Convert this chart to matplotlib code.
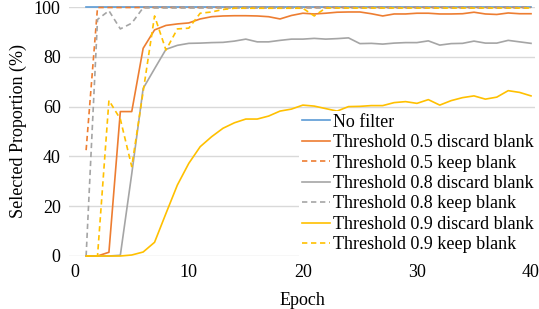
import numpy as np
import matplotlib
matplotlib.use("Agg")
import matplotlib.pyplot as plt

plt.rcParams.update({
    "font.family": "serif",
    "font.serif": ["Liberation Serif", "Times New Roman", "DejaVu Serif"],
    "font.size": 13,
})

# -----------------------------
# Data
# -----------------------------
epochs = np.arange(1, 41)

no_filter = [100, 100, 100, 100, 100, 100, 100, 100, 100, 100,
             100, 100, 100, 100, 100, 100, 100, 100, 100, 100,
             100, 100, 100, 100, 100, 100, 100, 100, 100, 100,
             100, 100, 100, 100, 100, 100, 100, 100, 100, 100]

t05_discard = [0, 0, 1.5, 58, 58, 83.4, 90.8, 92.6, 93.2, 93.6,
               95.2, 96.1, 96.4, 96.5, 96.5, 96.4, 96.1, 95.2, 96.6, 97.5,
               97.2, 97.5, 97.9, 98.0, 98.0, 97.3, 96.4, 97.2, 97.2, 97.5,
               97.5, 97.2, 97.2, 97.3, 97.9, 97.2, 97.0, 97.6, 97.3, 97.3]

t05_keep = [42.5, 99.8, 99.8, 99.8, 99.8, 99.8, 99.8, 99.8, 99.8, 99.8,
            99.8, 99.8, 99.8, 99.8, 99.8, 99.8, 99.8, 99.8, 99.8, 99.8,
            99.8, 99.8, 99.8, 99.8, 99.8, 99.8, 99.8, 99.8, 99.8, 99.8,
            99.8, 99.8, 99.8, 99.8, 99.8, 99.8, 99.8, 99.8, 99.8, 99.8]

t08_discard = [0, 0, 0, 0.3, 33, 67.3, 75.2, 83.0, 84.6, 85.4,
               85.5, 85.7, 85.8, 86.3, 87.1, 86.0, 86.0, 86.6, 87.1, 87.1,
               87.4, 87.1, 87.3, 87.6, 85.3, 85.4, 85.1, 85.5, 85.7, 85.7,
               86.4, 84.7, 85.3, 85.4, 86.3, 85.5, 85.5, 86.6, 86.0, 85.4]

t08_keep = [0, 95.0, 98.5, 91.2, 93.5, 99.7, 99.6, 99.6, 99.6, 99.6,
            99.6, 99.6, 99.6, 99.6, 99.6, 99.6, 99.6, 99.6, 99.6, 99.6,
            99.6, 99.6, 99.6, 99.6, 99.6, 99.6, 99.6, 99.6, 99.6, 99.6,
            99.6, 99.6, 99.6, 99.6, 99.6, 99.6, 99.6, 99.6, 99.6, 99.6]

t09_discard = [0, 0, 0, 0, 0.4, 1.6, 5.5, 17.1, 28.5, 37.2,
               43.9, 47.9, 51.3, 53.5, 55.0, 55.0, 56.2, 58.2, 59.0, 60.6,
               60.2, 59.2, 58.2, 60.0, 60.1, 60.4, 60.4, 61.6, 62.0, 61.3,
               62.8, 60.6, 62.4, 63.6, 64.3, 63.0, 63.8, 66.4, 65.7, 64.3]

t09_keep = [0, 0, 62.5, 55.0, 35.9, 66.0, 96.4, 82.7, 91.2, 91.5,
            97.5, 98.0, 99.0, 99.5, 99.5, 99.5, 99.5, 99.5, 99.5, 99.5,
            96.4, 99.6, 99.6, 99.6, 99.6, 99.6, 99.6, 99.6, 99.6, 99.6,
            99.6, 99.6, 99.6, 99.6, 99.6, 99.6, 99.6, 99.6, 99.6, 99.6]

labels = ["No filter",
          "Threshold 0.5 discard blank",
          "Threshold 0.5 keep blank",
          "Threshold 0.8 discard blank",
          "Threshold 0.8 keep blank",
          "Threshold 0.9 discard blank",
          "Threshold 0.9 keep blank"]

# -----------------------------
# Style
# -----------------------------
BLUE = "#5B9BD5"
ORANGE = "#ED7D31"
GRAY = "#A5A5A5"
YELLOW = "#FFC000"
GRID = "#D9D9D9"

series = [
    (no_filter, BLUE, "-"),
    (t05_discard, ORANGE, "-"),
    (t05_keep, ORANGE, "--"),
    (t08_discard, GRAY, "-"),
    (t08_keep, GRAY, "--"),
    (t09_discard, YELLOW, "-"),
    (t09_keep, YELLOW, "--"),
]

fig = plt.figure(figsize=(5.39, 3.09), dpi=100, facecolor="white")
ax = fig.add_axes([69 / 539, 1 - 256 / 309, (535 - 69) / 539, (256 - 7) / 309])

for (vals, color, ls), label in zip(series, labels):
    line, = ax.plot(epochs, vals, color=color, lw=1.2, label=label,
                    clip_on=False, zorder=3)
    if ls == "--":
        line.set_dashes((3.2, 2.2))

ax.set_xlim(-0.5, 40.35)
ax.set_ylim(0, 100)
ax.set_xticks([0, 10, 20, 30, 40])
ax.set_yticks([0, 20, 40, 60, 80, 100])
ax.grid(axis="y", color=GRID, lw=1.0, zorder=0)
ax.set_axisbelow(True)
for s in ax.spines.values():
    s.set_visible(False)
ax.tick_params(length=0, pad=6)

ax.set_xlabel("Epoch", labelpad=8)
ax.set_ylabel("Selected Proportion (%)", labelpad=5)

leg = ax.legend(loc="upper left", bbox_to_anchor=(299 / 539, 1 - 111 / 309),
                bbox_transform=fig.transFigure, frameon=True, fancybox=False,
                framealpha=1, edgecolor="none", facecolor="white",
                borderpad=0.15, borderaxespad=0, handlelength=1.55,
                handletextpad=0.2, labelspacing=0.19, fontsize=13)
leg.set_zorder(5)

fig.savefig("out.png", dpi=100, facecolor="white")
